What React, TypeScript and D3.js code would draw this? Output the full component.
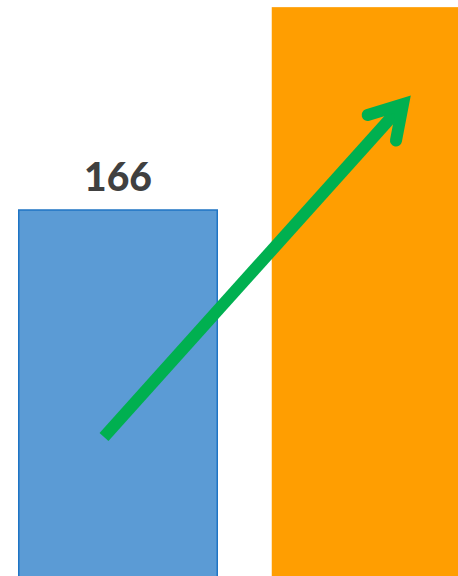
import { useEffect, useRef } from 'react'
import * as d3 from 'd3'

const categories = ['Before', 'After']
const values = [166, 258]
const labels = ['166', '']
const colors = ['#5b9bd5', '#ff9e01']
const strokes = ['#1f74c4', 'none']

// arrow annotation, anchored to bands (fraction across band) and data values
const arrowFrom = { cat: 'Before', pos: 0.43, value: 63 }
const arrowTo = { cat: 'After', pos: 0.66, value: 214 }

export default function App() {
  const svgRef = useRef<SVGSVGElement>(null)

  useEffect(() => {
    if (!svgRef.current) return
    const width = 458
    const height = 576
    const svg = d3.select(svgRef.current)
    svg.selectAll('*').remove()

    const x = d3.scaleBand()
      .domain(categories)
      .range([18, 471])
      .paddingInner(53 / 253)
      .paddingOuter(0)

    const y = d3.scaleLinear()
      .domain([0, 166])
      .range([height, 210])

    const g = svg.append('g')

    categories.forEach((c, i) => {
      g.append('rect')
        .attr('x', x(c)! + 0.75)
        .attr('y', y(values[i]))
        .attr('width', x.bandwidth() - 1.5)
        .attr('height', height - y(values[i]) + 2)
        .attr('fill', colors[i])
        .attr('stroke', strokes[i])
        .attr('stroke-width', 1.5)

      if (labels[i]) {
        g.append('text')
          .attr('x', x(c)! + x.bandwidth() / 2)
          .attr('y', y(values[i]) - 19)
          .attr('text-anchor', 'middle')
          .attr('fill', '#404040')
          .attr('font-size', '39px')
          .attr('font-weight', 900)
          .attr('font-family', 'Lato, "Open Sans", sans-serif')
          .text(labels[i])
      }
    })

    // Arrow
    const x0 = x(arrowFrom.cat)! + x.bandwidth() * arrowFrom.pos
    const y0 = y(arrowFrom.value)
    const x1 = x(arrowTo.cat)! + x.bandwidth() * arrowTo.pos
    const y1 = y(arrowTo.value)
    const ang = Math.atan2(y0 - y1, x0 - x1)
    const headLen = 37
    const half = (31 * Math.PI) / 180
    const green = '#00b050'

    g.append('line')
      .attr('x1', x0).attr('y1', y0)
      .attr('x2', x1 - 4 * Math.cos(ang + Math.PI)).attr('y2', y1 - 4 * Math.sin(ang + Math.PI))
      .attr('stroke', green)
      .attr('stroke-width', 12)

    const head = d3.path()
    head.moveTo(x1 + headLen * Math.cos(ang + half), y1 + headLen * Math.sin(ang + half))
    head.lineTo(x1, y1)
    head.lineTo(x1 + headLen * Math.cos(ang - half), y1 + headLen * Math.sin(ang - half))
    g.append('path')
      .attr('d', head.toString())
      .attr('fill', 'none')
      .attr('stroke', green)
      .attr('stroke-width', 12)
      .attr('stroke-linecap', 'round')
      .attr('stroke-linejoin', 'miter')

    svg.attr('width', width).attr('height', height)
  }, [])

  return (
    <svg
      ref={svgRef}
      width={458}
      height={576}
      style={{ position: 'fixed', top: 0, left: 0, display: 'block', background: '#fff' }}
    />
  )
}
